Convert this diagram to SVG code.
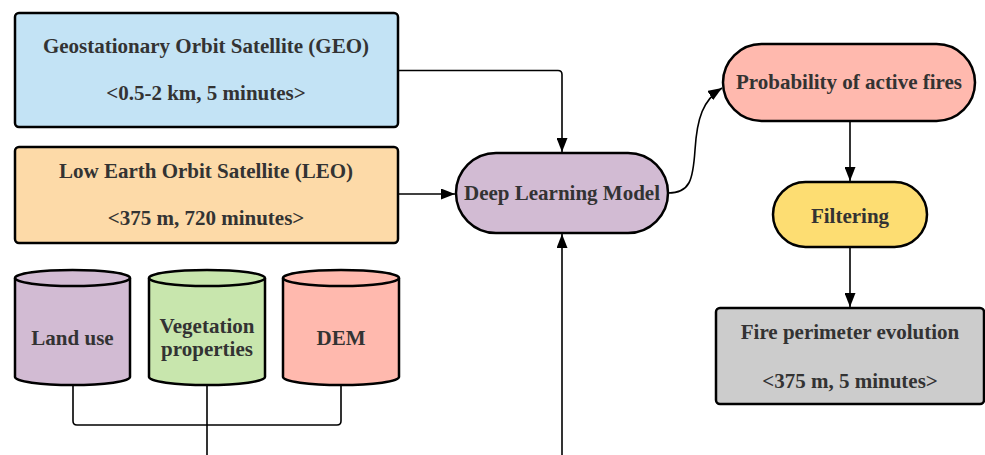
<svg xmlns="http://www.w3.org/2000/svg" width="985" height="455" viewBox="0 0 985 455">
<defs>
<marker id="ah" viewBox="0 0 14 11" refX="14" refY="5.5" markerWidth="14" markerHeight="11" markerUnits="userSpaceOnUse" orient="auto"><path d="M0,0 L14,5.5 L0,11 z" fill="#000"/></marker>
<style>
.n{stroke:#000;stroke-width:2.5}
.t{font-family:"Liberation Serif","DejaVu Serif",serif;font-weight:bold;font-size:21px;fill:#333;text-anchor:middle}
.c{fill:none;stroke:#000;stroke-width:1.6}
.a{fill:none;stroke:#000;stroke-width:1.6;marker-end:url(#ah)}
</style>
</defs>
<rect width="985" height="455" fill="#fff"/>
<g id="connectors">
<path class="a" d="M398,70.5 H558 Q562,70.5 562,74.5 V152"/>
<path class="a" d="M398,194 H455"/>
<path class="a" d="M562,470 V234"/>
<path class="c" d="M73,385 V421 Q73,425 77,425 H337 Q341,425 341,421 V385"/>
<path class="c" d="M207,385 V470"/>
<path class="a" d="M668,193 C690,193 693,180 695,150 C697,118 703,100 722,88"/>
<path class="a" d="M850,121 V181"/>
<path class="a" d="M850,247 V307"/>
</g>
<g id="geo">
<rect class="n" x="15" y="13" width="383" height="114" rx="4" fill="#c3e3f5"/>
<text class="t" x="206" y="53">Geostationary Orbit Satellite (GEO)</text>
<text class="t" x="206" y="100">&lt;0.5-2 km, 5 minutes&gt;</text>
</g>
<g id="leo">
<rect class="n" x="15" y="147" width="383" height="96" rx="4" fill="#fddaa8"/>
<text class="t" x="206" y="178">Low Earth Orbit Satellite (LEO)</text>
<text class="t" x="206" y="225">&lt;375 m, 720 minutes&gt;</text>
</g>
<g id="landuse">
<path class="n" fill="#d2bbd3" d="M15,278 V377 A57.5,8 0 0 0 130,377 V278 A57.5,8 0 0 0 15,278 Z"/>
<path class="n" fill="none" d="M15,278 A57.5,8 0 0 0 130,278"/>
<text class="t" x="72.5" y="345">Land use</text>
</g>
<g id="vegetation">
<path class="n" fill="#c8e6ad" d="M149,278 V377 A58,8 0 0 0 265,377 V278 A58,8 0 0 0 149,278 Z"/>
<path class="n" fill="none" d="M149,278 A58,8 0 0 0 265,278"/>
<text class="t" x="207" y="333">Vegetation</text>
<text class="t" x="207" y="356">properties</text>
</g>
<g id="dem">
<path class="n" fill="#ffb9ae" d="M283,278 V377 A58,8 0 0 0 399,377 V278 A58,8 0 0 0 283,278 Z"/>
<path class="n" fill="none" d="M283,278 A58,8 0 0 0 399,278"/>
<text class="t" x="341" y="345">DEM</text>
</g>
<g id="dlmodel">
<rect class="n" x="456" y="153" width="212" height="80" rx="40" fill="#d2bbd3"/>
<text class="t" x="562" y="200">Deep Learning Model</text>
</g>
<g id="probability">
<rect class="n" x="723" y="44" width="252" height="77" rx="38.5" fill="#ffb9ae"/>
<text class="t" x="849" y="89">Probability of active fires</text>
</g>
<g id="filtering">
<rect class="n" x="773" y="182" width="154" height="65" rx="32.5" fill="#fddd72"/>
<text class="t" x="850" y="223">Filtering</text>
</g>
<g id="perimeter">
<rect class="n" x="716" y="308" width="268" height="96" rx="4" fill="#cccccc"/>
<text class="t" x="850" y="339">Fire perimeter evolution</text>
<text class="t" x="850" y="388">&lt;375 m, 5 minutes&gt;</text>
</g>
</svg>
